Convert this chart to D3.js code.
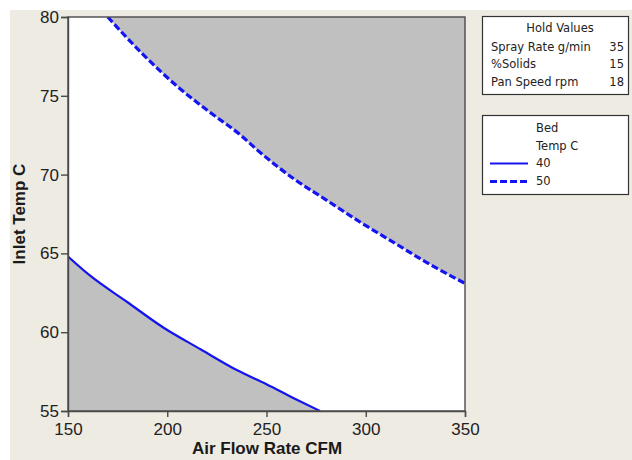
<!DOCTYPE html>
<html>
<head>
<meta charset="utf-8">
<script src="https://cdn.jsdelivr.net/npm/d3@7"></script>
<style>
  html, body { margin: 0; padding: 0; background: #ffffff; }
  svg { display: block; }
</style>
</head>
<body>
<svg id="chart" width="632" height="460"></svg>
<script>
// Contour boundaries of bed temperature over air flow rate vs. inlet temperature
const airFlow40 = [150, 161, 180, 198, 217, 235, 250, 264, 277];
const inlet40   = [64.8, 63.6, 61.9, 60.3, 58.9, 57.6, 56.7, 55.8, 55.0];
const airFlow50 = [170, 188, 205, 221, 237, 245, 263, 280, 297, 314, 331, 350];
const inlet50   = [80.0, 77.6, 75.6, 74.0, 72.5, 71.6, 69.8, 68.4, 67.0, 65.7, 64.4, 63.1];

const xTicks = [150, 200, 250, 300, 350];
const yTicks = [55, 60, 65, 70, 75, 80];

const holdLabels = ["Spray Rate g/min", "%Solids", "Pan Speed rpm"];
const holdValues = [35, 15, 18];
const bedTemps = [40, 50];

const svg = d3.select("#chart");
const blue = "#1414f0";
const gray = "#c0c0c0";
const axisColor = "#4a4a4a";
const font = "'Liberation Sans', Arial, sans-serif";
const legendFont = "'DejaVu Sans', Verdana, sans-serif";

// page background
svg.append("rect").attr("x", 10).attr("y", 10).attr("width", 622).attr("height", 450)
  .attr("fill", "#eeebe2");

const x = d3.scaleLinear().domain([150, 350]).range([68, 465]);
const y = d3.scaleLinear().domain([55, 80]).range([411, 17]);

svg.append("defs").append("clipPath").attr("id", "plotClip")
  .append("rect").attr("x", 68).attr("y", 17).attr("width", 397).attr("height", 394);

const plot = svg.append("g").attr("clip-path", "url(#plotClip)");
plot.append("rect").attr("x", 68).attr("y", 17).attr("width", 397).attr("height", 394)
  .attr("fill", "#ffffff");

const pts40 = airFlow40.map((v, i) => [v, inlet40[i]]);
const pts50 = airFlow50.map((v, i) => [v, inlet50[i]]);

// shaded region below the 40 C contour
plot.append("path").datum(pts40)
  .attr("fill", gray)
  .attr("d", d3.area().x(d => x(d[0])).y0(y(55)).y1(d => y(d[1])).curve(d3.curveMonotoneX));

// shaded region above the 50 C contour
plot.append("path").datum(pts50)
  .attr("fill", gray)
  .attr("d", d3.area().x(d => x(d[0])).y0(y(80)).y1(d => y(d[1])).curve(d3.curveMonotoneX));

const line = d3.line().x(d => x(d[0])).y(d => y(d[1])).curve(d3.curveMonotoneX);

plot.append("path").datum(pts40)
  .attr("fill", "none").attr("stroke", blue).attr("stroke-width", 2.2)
  .attr("d", line);

plot.append("path").datum(pts50)
  .attr("fill", "none").attr("stroke", blue).attr("stroke-width", 3.2)
  .attr("stroke-dasharray", "7,3")
  .attr("d", line);

// frame
svg.append("rect").attr("x", 68).attr("y", 17).attr("width", 397).attr("height", 394)
  .attr("fill", "none").attr("stroke", axisColor).attr("stroke-width", 1.4);

// axes
const xAxis = svg.append("g").attr("transform", "translate(0,411)")
  .call(d3.axisBottom(x).tickValues(xTicks).tickSize(6).tickPadding(6).tickFormat(d3.format("d")));
const yAxis = svg.append("g").attr("transform", "translate(68,0)")
  .call(d3.axisLeft(y).tickValues(yTicks).tickSize(7).tickPadding(2).tickFormat(d3.format("d")));

[xAxis, yAxis].forEach(g => {
  g.select(".domain").attr("stroke", axisColor).attr("stroke-width", 1.4);
  g.selectAll(".tick line").attr("stroke", axisColor).attr("stroke-width", 1.4);
  g.selectAll(".tick text").attr("fill", "#222").attr("font-family", font).attr("font-size", 17);
});

// axis titles
svg.append("text").attr("x", 267).attr("y", 454).attr("text-anchor", "middle")
  .attr("font-family", font).attr("font-weight", "bold").attr("font-size", 17).attr("fill", "#1a1a1a")
  .text("Air Flow Rate CFM");
svg.append("text").attr("transform", "translate(25,214) rotate(-90)").attr("text-anchor", "middle")
  .attr("font-family", font).attr("font-weight", "bold").attr("font-size", 17).attr("fill", "#1a1a1a")
  .text("Inlet Temp C");

// hold values box
const legFont = 11.5;
const hold = svg.append("g");
hold.append("rect").attr("x", 482.5).attr("y", 16.5).attr("width", 146).attr("height", 78)
  .attr("fill", "#ffffff").attr("stroke", "#333").attr("stroke-width", 1.2);
hold.append("text").attr("x", 560).attr("y", 32).attr("text-anchor", "middle")
  .attr("font-family", legendFont).attr("font-size", legFont).attr("fill", "#222").text("Hold Values");
holdLabels.forEach((lab, i) => {
  hold.append("text").attr("x", 491).attr("y", 50.5 + i * 17.5)
    .attr("font-family", legendFont).attr("font-size", legFont).attr("fill", "#222").text(lab);
  hold.append("text").attr("x", 624).attr("y", 50.5 + i * 17.5).attr("text-anchor", "end")
    .attr("font-family", legendFont).attr("font-size", legFont).attr("fill", "#222").text(holdValues[i]);
});

// contour legend
const leg = svg.append("g");
leg.append("rect").attr("x", 482.5).attr("y", 115.5).attr("width", 146).attr("height", 79)
  .attr("fill", "#ffffff").attr("stroke", "#333").attr("stroke-width", 1.2);
leg.append("text").attr("x", 536).attr("y", 132)
  .attr("font-family", legendFont).attr("font-size", legFont).attr("fill", "#222").text("Bed");
leg.append("text").attr("x", 536).attr("y", 150)
  .attr("font-family", legendFont).attr("font-size", legFont).attr("fill", "#222").text("Temp C");
bedTemps.forEach((t, i) => {
  const yy = 167 + i * 18;
  leg.append("line").attr("x1", 490).attr("x2", 528).attr("y1", yy - 3.5).attr("y2", yy - 3.5)
    .attr("stroke", blue).attr("stroke-width", i === 0 ? 2.2 : 3.2)
    .attr("stroke-dasharray", i === 0 ? null : "7,3");
  leg.append("text").attr("x", 536).attr("y", yy)
    .attr("font-family", legendFont).attr("font-size", legFont).attr("fill", "#222").text(t);
});
</script>
</body>
</html>
